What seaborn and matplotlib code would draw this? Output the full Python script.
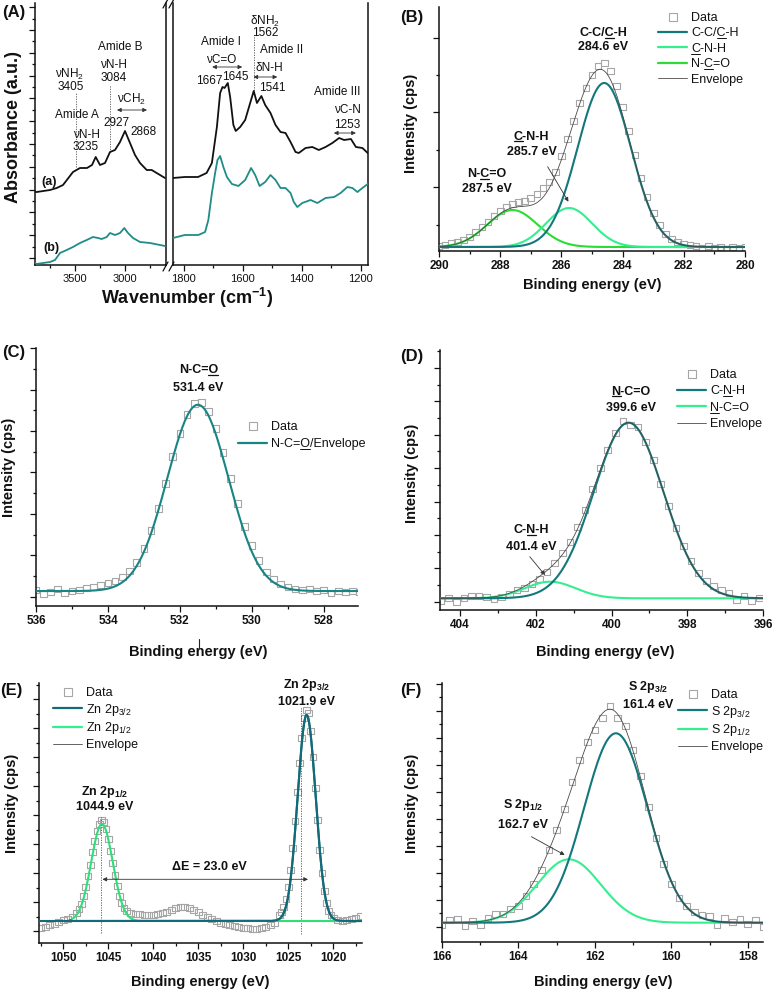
import numpy as np
import matplotlib
matplotlib.use("Agg")
import matplotlib.pyplot as plt
import seaborn as sns
from matplotlib.lines import Line2D

W, H = 775, 992

# ---------------- (A) FTIR (arbitrary units) ----------------
ftir_a_hi_wn = [3900, 3883, 3750, 3683, 3620, 3520, 3450, 3380, 3330, 3293, 3250, 3200, 3150,
                3100, 3050, 3000, 2950, 2900, 2850, 2783, 2733, 2683, 2600]
ftir_a_hi = [73, 73, 75, 77, 80, 93, 97, 97, 100, 108, 100, 102, 113,
             115, 123, 134, 122, 110, 102, 95, 95, 92, 87]
ftir_b_hi_wn = [3900, 3883, 3820, 3750, 3700, 3650, 3583, 3520, 3450, 3383, 3320, 3270, 3233,
                3183, 3150, 3100, 3050, 3007, 2970, 2920, 2850, 2750, 2600]
ftir_b_hi = [2, 1, 2, 3, 5, 12, 15, 18, 22, 25, 28, 27, 26,
             28, 32, 30, 32, 37, 32, 27, 23, 22, 19]
ftir_a_lo_wn = [1837, 1797, 1752, 1723, 1705, 1688, 1677, 1669, 1662, 1651, 1643, 1632, 1624,
                1609, 1592, 1575, 1563, 1552, 1537, 1524, 1506, 1489, 1472, 1455, 1438, 1421,
                1410, 1387, 1364, 1342, 1319, 1296, 1273, 1256, 1233, 1216, 1194, 1176]
ftir_a_lo = [87, 88, 88, 92, 102, 138, 172, 178, 177, 182, 168, 140, 134,
             138, 145, 162, 174, 162, 169, 160, 152, 140, 133, 132, 123, 113,
             112, 117, 118, 115, 118, 122, 127, 125, 126, 118, 117, 112]
ftir_b_lo_wn = [1837, 1797, 1751, 1728, 1717, 1705, 1694, 1686, 1677, 1666, 1654, 1637, 1615,
                1592, 1572, 1558, 1543, 1524, 1506, 1489, 1472, 1455, 1438, 1427, 1415, 1398,
                1370, 1347, 1319, 1290, 1268, 1245, 1228, 1211, 1194, 1176]
ftir_b_lo = [27, 30, 30, 33, 45, 72, 92, 105, 109, 98, 88, 81, 79,
             85, 97, 90, 79, 83, 90, 85, 77, 77, 72, 63, 58, 62,
             65, 62, 67, 68, 72, 78, 77, 73, 77, 81]

# ---------------- (B) C 1s ----------------
c1s_be = np.linspace(290.0, 280.0, 51)
c1s_counts = [5, 6, 8, 9, 11, 14, 19, 24, 29, 35, 40, 44, 47, 49, 50, 53, 57, 63, 69, 79,
              95, 112, 130, 148, 163, 176, 185, 188, 180, 165, 144, 120, 96, 73, 54, 38, 26, 17, 12, 9,
              7, 6, 5, 3, 5, 3, 4, 2, 4, 3, 4]
c1s_labels = ["C-C/C-H", "C-N-H", "N-C=O"]
c1s_center = [284.6, 285.75, 287.6]
c1s_height = [164, 39, 37]
c1s_sigma = [0.87, 0.75, 0.82]
c1s_base = 4

# ---------------- (C) O 1s ----------------
o1s_be = np.linspace(536.0, 527.0, 46)
o1s_counts = [16, 12, 14, 17, 13, 15, 16, 18, 19, 21, 23, 25, 29, 35, 44, 58, 76, 98, 123, 150,
              173, 192, 203, 204, 195, 178, 154, 128, 103, 80, 61, 46, 34, 27, 22, 19, 17, 16, 17, 15,
              16, 13, 15, 14, 15, 14]
o1s_center, o1s_height, o1s_sigma, o1s_base = 531.5, 187, 0.85, 15

# ---------------- (D) N 1s ----------------
n1s_be = np.linspace(404.5, 396.1, 43)
n1s_counts = [9, 12, 8, 12, 14, 14, 13, 11, 13, 16, 20, 22, 26, 31, 38, 47, 57, 68, 83, 100,
              121, 142, 160, 177, 189, 185, 183, 168, 150, 126, 104, 82, 64, 49, 37, 29, 24, 20, 17, 10,
              14, 9, 12]
n1s_center = [399.55, 401.62]
n1s_height = [175.6, 16.6]
n1s_sigma = [0.92, 0.67]
n1s_base = 11.7

# ---------------- (E) Zn 2p ----------------
zn_be = [1052.5, 1052.0, 1051.5, 1051.0, 1050.5, 1050.0, 1049.5, 1049.0,
         1048.5, 1048.25, 1048.0, 1047.75, 1047.5, 1047.25, 1047.0, 1046.75, 1046.5, 1046.25,
         1046.0, 1045.75, 1045.5, 1045.25, 1045.0, 1044.75, 1044.5, 1044.25, 1044.0, 1043.75,
         1043.5, 1043.25, 1043.0,
         1042.5, 1042.0, 1041.5, 1041.0, 1040.5, 1040.0, 1039.5, 1039.0, 1038.5, 1038.0,
         1037.5, 1037.0, 1036.5, 1036.0, 1035.5, 1035.0, 1034.5, 1034.0, 1033.5, 1033.0,
         1032.5, 1032.0, 1031.5, 1031.0, 1030.5, 1030.0, 1029.5, 1029.0, 1028.5, 1028.0,
         1027.5, 1027.0, 1026.5, 1026.0,
         1025.75, 1025.5, 1025.25, 1025.0, 1024.75, 1024.5, 1024.25, 1024.0, 1023.75, 1023.5,
         1023.25, 1023.0, 1022.75, 1022.5, 1022.25, 1022.0, 1021.75, 1021.5, 1021.25, 1021.0,
         1020.75, 1020.5, 1020.25, 1020.0,
         1019.5, 1019.0, 1018.5, 1018.0, 1017.5, 1017.0]
zn_counts = [15, 16, 18, 19, 21, 23, 24, 26,
             30, 34, 39, 47, 56, 67, 78, 91, 102, 112, 119, 123, 121, 114, 104, 92, 80, 68, 57, 47,
             40, 35, 32,
             30, 29, 29, 28, 28, 28, 29, 30, 31, 33, 35, 36, 36, 35, 33, 31, 28, 26, 24, 22,
             20, 19, 18, 17, 16, 15, 15, 14, 14, 15, 16, 18, 20, 28,
             31, 36, 44, 56, 73, 95, 122, 151, 180, 205, 225, 233, 230, 212, 186, 155, 123, 93, 70, 52,
             40, 32, 28, 25,
             23, 22, 23, 24, 25, 27]
zn_center = [1022.95, 1045.7]
zn_height = [206, 97]
zn_sigma = [1.0, 1.2]
zn_base = 22

# ---------------- (F) S 2p ----------------
s_be = np.linspace(166.0, 157.6, 43)
s_counts = [17, 22, 23, 16, 21, 17, 24, 28, 28, 33, 36, 46, 58, 72, 92, 112, 133, 160, 182, 200,
            212, 224, 236, 224, 216, 192, 166, 135, 104, 78, 58, 44, 36, 30, 27, 26, 17, 24, 20, 23,
            18, 22, 15]
s_center = [161.45, 162.68]
s_height = [189.4, 63.4]
s_sigma = [0.83, 0.83]
s_base = 19.3

TEAL = "#13787c"
LGREEN = "#33ef8f"
GREEN = "#2bdc33"
ENV = "#4a4a4a"
DATA = "#a6a6a6"

sns.set_theme(style="ticks")
plt.rcParams["font.family"] = ["Liberation Sans", "DejaVu Sans"]
plt.rcParams.update({
    "mathtext.fontset": "custom",
    "mathtext.rm": "Liberation Sans",
    "mathtext.bf": "Liberation Sans:bold",
    "mathtext.it": "Liberation Sans:italic",
    "mathtext.default": "rm",
    "axes.linewidth": 1.1,
    "axes.edgecolor": "#111111",
    "xtick.color": "#111111",
    "ytick.color": "#111111",
    "text.color": "#111111",
})

fig = plt.figure(figsize=(W / 100, H / 100), dpi=100)


def fx(px):
    return px / W


def fy(py):
    return 1 - py / H


def px_axes(l, t, r, b):
    return fig.add_axes([fx(l), fy(b), (r - l) / W, (b - t) / H])


def peak(x, c, h, s):
    return h * np.exp(-(x - c) ** 2 / (2 * s ** 2))


def curve(ax, x, y, color, lw, z=3, ls="-"):
    sns.lineplot(x=x, y=y, ax=ax, color=color, linewidth=lw, sort=False,
                 estimator=None, legend=False, zorder=z, linestyle=ls)


def data_pts(ax, x, y):
    sns.scatterplot(x=x, y=y, ax=ax, marker="s", s=23, facecolor="none",
                    edgecolor=DATA, linewidth=0.8, legend=False, zorder=1)


def ticks_setup(ax, xmaj, xmin, ymaj, ymin, labsize=8.5, bold=True):
    ax.set_xticks(xmaj)
    ax.set_xticklabels([f"{v:g}" for v in xmaj], fontsize=labsize,
                       fontweight="bold" if bold else "normal")
    ax.set_xticks(xmin, minor=True)
    ax.set_yticks(ymaj)
    ax.set_yticks(ymin, minor=True)
    ax.tick_params(labelleft=False)
    ax.tick_params(which="major", length=4.2, width=0.9, pad=2)
    ax.tick_params(which="minor", length=2.3, width=0.9)


def xps_axes(ax, xlim, ylim):
    ax.set_xlim(xlim)
    ax.set_ylim(ylim)
    sns.despine(ax=ax)
    ax.set_xlabel("")
    ax.set_ylabel("")


def legend(ax, handles, labels, l, t, spacing):
    return ax.legend(handles, labels, loc="upper left",
                     bbox_to_anchor=(fx(l), fy(t)), bbox_transform=fig.transFigure,
                     frameon=False, prop={"size": 9}, handlelength=2.35,
                     handletextpad=0.3, labelspacing=spacing, borderpad=0,
                     borderaxespad=0)


def h_data():
    return Line2D([], [], marker="s", ls="none", mfc="none", mec=DATA, ms=5.5, mew=0.8)


def h_line(c, lw):
    return Line2D([], [], color=c, lw=lw)


def note(ax, x, y, s, size=9, weight="bold"):
    return ax.text(x, y, s, ha="center", va="center", fontsize=size, fontweight=weight)


def arrow(ax, tail, tip, both=False):
    ax.annotate("", xy=tip, xytext=tail,
                arrowprops=dict(arrowstyle="<|-|>" if both else "-|>", color="#333333",
                                lw=0.6, mutation_scale=6, shrinkA=0, shrinkB=0))


def flabel(px, py, s, size, rot=0, ha="center"):
    fig.text(fx(px), fy(py), s, ha=ha, va="center", fontsize=size,
             fontweight="bold", rotation=rot)


# ======================= (A) =======================
axL = px_axes(35, 3, 166, 265)
axR = px_axes(173, 3, 368, 265)
curve(axL, ftir_a_hi_wn, ftir_a_hi, "#111111", 1.3)
curve(axL, ftir_b_hi_wn, ftir_b_hi, "#1f8c87", 1.3)
curve(axR, ftir_a_lo_wn, ftir_a_lo, "#111111", 1.3)
curve(axR, ftir_b_lo_wn, ftir_b_lo, "#1f8c87", 1.3)
for ax, xl in ((axL, (3900, 2590)), (axR, (1837, 1175))):
    ax.set_xlim(xl)
    ax.set_ylim(0, 262)
    ax.spines["top"].set_visible(False)
    ax.set_xlabel("")
    ax.set_ylabel("")
ticks_setup(axL, [3500, 3000], [3750, 3250, 2750],
            list(np.arange(7, 262, 22.8)), list(np.arange(18.4, 262, 22.8)),
            labsize=8, bold=False)
ticks_setup(axR, [1800, 1600, 1400, 1200], [1700, 1500, 1300], [], [],
            labsize=8, bold=False)
axR.tick_params(left=False, which="both")

dot = dict(color="#555555", lw=0.6, ls=(0, (1.5, 1.5)))
axL.plot([3490, 3490], [98, 172], **dot)
axL.plot([3150, 3150], [113, 180], **dot)
axR.plot([1563, 1563], [172, 230], **dot)

fa = 8.5
note(axL, 3550, 191, "νNH$_2$", fa, "normal")
note(axL, 3540, 178, "3405", fa, "normal")
note(axL, 3050, 218, "Amide B", fa, "normal")
note(axL, 3117, 200, "νN-H", fa, "normal")
note(axL, 3110, 187, "3084", fa, "normal")
note(axL, 2933, 166, "νCH$_2$", fa, "normal")
arrow(axL, (3080, 155), (2780, 155), both=True)
note(axL, 3477, 150, "Amide A", fa, "normal")
note(axL, 3390, 130, "νN-H", fa, "normal")
note(axL, 3390, 118, "3235", fa, "normal")
note(axL, 3083, 142, "2927", fa, "normal")
note(axL, 2817, 133, "2868", fa, "normal")
note(axL, 3757, 83, "(a)", 9, "bold")
note(axL, 3733, 17, "(b)", 9, "bold")

note(axR, 1524, 244, "δNH$_2$", fa, "normal")
note(axR, 1524, 232, "1562", fa, "normal")
note(axR, 1675, 223, "Amide I", fa, "normal")
note(axR, 1467, 215, "Amide II", fa, "normal")
note(axR, 1675, 205, "νC=O", fa, "normal")
arrow(axR, (1704, 198), (1602, 198), both=True)
note(axR, 1509, 197, "δN-H", fa, "normal")
arrow(axR, (1564, 188), (1483, 188), both=True)
note(axR, 1714, 184, "1667", fa, "normal")
note(axR, 1626, 188, "1645", fa, "normal")
note(axR, 1501, 177, "1541", fa, "normal")
note(axR, 1279, 173, "Amide III", fa, "normal")
note(axR, 1245, 155, "νC-N", fa, "normal")
note(axR, 1245, 140, "1253", fa, "normal")
arrow(axR, (1291, 132), (1216, 132), both=True)

for y0 in (271, 8):
    for x0 in (163, 169):
        fig.add_artist(Line2D([fx(x0), fx(x0 + 5)], [fy(y0), fy(y0 - 9)],
                              color="#111111", lw=0.9))

flabel(2, 12.5, "(A)", 12, ha="left")
flabel(13.5, 127, "Absorbance (a.u.)", 13, rot=90)
flabel(187, 298, r"Wavenumber (cm$^{\mathbf{-1}}$)", 13)

# ======================= (B) =======================
axB = px_axes(439, 7, 745, 251)
gB = np.linspace(290, 280, 400)
compsB = [peak(gB, c, h, s) for c, h, s in zip(c1s_center, c1s_height, c1s_sigma)]
data_pts(axB, c1s_be, c1s_counts)
curve(axB, gB, compsB[2] + c1s_base, GREEN, 1.5)
curve(axB, gB, compsB[1] + c1s_base, LGREEN, 1.5)
curve(axB, gB, compsB[0] + c1s_base, TEAL, 1.5)
curve(axB, gB, sum(compsB) + c1s_base, ENV, 0.6, z=4)
xps_axes(axB, (290, 280), (0, 244))
ticks_setup(axB, list(range(290, 279, -2)), list(range(289, 280, -2)),
            [64, 139, 213], [26, 101, 176])
legB = legend(axB, [h_data(), h_line(TEAL, 1.6), h_line(LGREEN, 1.6), h_line(GREEN, 1.6),
                    h_line(ENV, 0.6)],
              ["Data", "C-C/C-H", "C-N-H", "N-C=O", "Envelope"], 658, 12, 0.27)
tB1 = note(axB, 284.63, 217.7, "C-C/C-H")
note(axB, 284.63, 204.3, "284.6 eV")
tB2 = note(axB, 286.97, 114.3, "C-N-H")
note(axB, 286.97, 99.3, "285.7 eV")
arrow(axB, (286.45, 84.3), (285.77, 49.3))
tB3 = note(axB, 288.44, 77, "N-C=O")
note(axB, 288.44, 61.7, "287.5 eV")
flabel(400, 17.5, "(B)", 12, ha="left")
flabel(411, 123, "Intensity (cps)", 10.5, rot=90)
flabel(592, 285, "Binding energy (eV)", 10.5)

# ======================= (C) =======================
axC = px_axes(36, 348, 358, 606)
gC = np.linspace(536, 527, 400)
data_pts(axC, o1s_be, o1s_counts)
curve(axC, gC, peak(gC, o1s_center, o1s_height, o1s_sigma) + o1s_base, "#178584", 1.5)
xps_axes(axC, (536, 527.05), (0, 259))
ticks_setup(axC, list(range(536, 527, -2)), list(range(535, 527, -2)),
            list(np.arange(9.3, 260, 41.6)), list(np.arange(30.1, 260, 41.6)))
legC = legend(axC, [h_data(), h_line("#178584", 1.6)], ["Data", "N-C=O/Envelope"],
              238, 421, 0.42)
tC1 = note(axC, 531.49, 237, "N-C=O")
note(axC, 531.49, 219.3, "531.4 eV")
fig.add_artist(Line2D([fx(199), fx(199)], [fy(639), fy(648)], color="#222222", lw=0.8))
flabel(2, 353, "(C)", 12, ha="left")
flabel(9, 467, "Intensity (cps)", 10.5, rot=90)
flabel(198, 652, "Binding energy (eV)", 10.5)

# ======================= (D) =======================
axD = px_axes(440, 350, 763, 610)
gD = np.linspace(404.53, 396, 400)
compsD = [peak(gD, c, h, s) for c, h, s in zip(n1s_center, n1s_height, n1s_sigma)]
data_pts(axD, n1s_be, n1s_counts)
curve(axD, gD, compsD[1] + n1s_base, LGREEN, 1.5)
curve(axD, gD, compsD[0] + n1s_base, TEAL, 1.5)
curve(axD, gD, sum(compsD) + n1s_base, ENV, 0.6, z=4)
xps_axes(axD, (404.53, 396.0), (0, 260))
ticks_setup(axD, list(range(404, 395, -2)), list(range(403, 396, -2)),
            list(np.arange(8.3, 261, 33.4)), list(np.arange(25, 261, 33.4)))
legD = legend(axD, [h_data(), h_line(TEAL, 1.6), h_line(LGREEN, 1.6), h_line(ENV, 0.6)],
              ["Data", "C-N-H", "N-C=O", "Envelope"], 677, 369, 0.35)
tD1 = note(axD, 399.48, 218.3, "N-C=O")
note(axD, 399.48, 201.7, "399.6 eV")
tD2 = note(axD, 402.11, 80, "C-N-H")
note(axD, 402.11, 63.3, "401.4 eV")
arrow(axD, (402.16, 53.3), (401.76, 35))
flabel(400, 356, "(D)", 12, ha="left")
flabel(412, 473, "Intensity (cps)", 10.5, rot=90)
flabel(605, 652, "Binding energy (eV)", 10.5)

# ======================= (E) =======================
axE = px_axes(39, 683, 362, 943)
gE = np.linspace(1052.7, 1016.8, 600)
gE2 = np.linspace(1049.0, 1016.8, 540)
data_pts(axE, zn_be, zn_counts)
curve(axE, gE, peak(gE, zn_center[0], zn_height[0], zn_sigma[0]) + zn_base, "#136a78", 1.5)
curve(axE, gE2, peak(gE2, zn_center[1], zn_height[1], zn_sigma[1]) + zn_base, "#2fe07a", 1.5)
curve(axE, gE2, peak(gE2, zn_center[0], zn_height[0], zn_sigma[0]) + zn_base, "#136a78", 1.5, z=3)
curve(axE, gE, peak(gE, zn_center[0], zn_height[0], zn_sigma[0])
      + peak(gE, zn_center[1], zn_height[1], zn_sigma[1]) + zn_base, ENV, 0.6, z=2)
xps_axes(axE, (1052.7, 1016.8), (0, 260))
ticks_setup(axE, list(range(1050, 1016, -5)), list(np.arange(1052.5, 1016, -5)),
            list(np.arange(12, 261, 29)), list(np.arange(26.5, 261, 29)))
axE.plot([1045.8, 1045.8], [10, 126], **dot)
axE.plot([1023.6, 1023.6], [9, 236], **dot)
arrow(axE, (1022.8, 63.7), (1045.65, 63.7), both=True)
legend(axE, [h_data(), h_line("#136a78", 1.6), h_line(LGREEN, 1.6), h_line(ENV, 0.6)],
       ["Data", "Zn 2p$_{3/2}$", "Zn 2p$_{1/2}$", "Envelope"], 53, 687, 0.22)
note(axE, 1022.95, 258, r"Zn 2p$_{\mathbf{3/2}}$")
note(axE, 1022.95, 241.3, "1021.9 eV")
note(axE, 1045.4, 151.3, r"Zn 2p$_{\mathbf{1/2}}$")
note(axE, 1045.4, 136.3, "1044.9 eV")
note(axE, 1033.8, 76.3, "ΔE = 23.0 eV")
flabel(0, 691, "(E)", 12, ha="left")
flabel(12, 803, "Intensity (cps)", 10.5, rot=90)
flabel(200, 982, "Binding energy (eV)", 10.5)

# ======================= (F) =======================
axF = px_axes(442, 683, 763, 942)
gF = np.linspace(166, 157.6, 400)
compsF = [peak(gF, c, h, s) for c, h, s in zip(s_center, s_height, s_sigma)]
data_pts(axF, s_be, s_counts)
curve(axF, gF, compsF[1] + s_base, LGREEN, 1.5)
curve(axF, gF, compsF[0] + s_base, TEAL, 1.5)
curve(axF, gF, sum(compsF) + s_base, ENV, 0.6, z=4)
xps_axes(axF, (166, 157.6), (0, 259))
ticks_setup(axF, list(range(166, 157, -2)), list(range(165, 157, -2)),
            list(np.arange(15.3, 260, 27)), list(np.arange(28.8, 260, 27)))
legend(axF, [h_data(), h_line(TEAL, 1.6), h_line(LGREEN, 1.6), h_line(ENV, 0.6)],
       ["Data", "S 2p$_{3/2}$", "S 2p$_{1/2}$", "Envelope"], 678, 689, 0.22)
note(axF, 160.61, 255.3, r"S 2p$_{\mathbf{3/2}}$")
note(axF, 160.61, 237, "161.4 eV")
note(axF, 163.88, 137, r"S 2p$_{\mathbf{1/2}}$")
note(axF, 163.88, 117, "162.7 eV")
arrow(axF, (163.66, 105.3), (162.79, 87))
flabel(400, 690, "(F)", 12, ha="left")
flabel(412, 803, "Intensity (cps)", 10.5, rot=90)
flabel(603, 982, "Binding energy (eV)", 10.5)

# ---- underlined atoms ----
fig.canvas.draw()
rend = fig.canvas.get_renderer()


def underline(txt, prefix, ch, lw=0.9):
    fp = txt.get_fontproperties()
    bb = txt.get_window_extent(rend)

    def width(s):
        if not s:
            return 0.0
        t = fig.text(0, 0, s, fontproperties=fp)
        w = t.get_window_extent(rend).width
        t.remove()
        return w

    x0 = bb.x0 + width(prefix)
    x1 = x0 + width(ch)
    y = bb.y0 + 0.1 * fp.get_size_in_points() * fig.dpi / 72
    fig.add_artist(Line2D([x0 / W, x1 / W], [y / H, y / H], transform=fig.transFigure,
                          color="#111111", lw=lw))


tb = legB.get_texts()
underline(tb[1], "C-C/", "C", 0.7)
underline(tb[2], "", "C", 0.7)
underline(tb[3], "N-", "C", 0.7)
underline(tB1, "C-C/", "C")
underline(tB2, "", "C")
underline(tB3, "N-", "C")
underline(legC.get_texts()[1], "N-C=", "O", 0.7)
underline(tC1, "N-C=", "O")
td = legD.get_texts()
underline(td[1], "C-", "N", 0.7)
underline(td[2], "", "N", 0.7)
underline(tD1, "", "N")
underline(tD2, "C-", "N")

fig.savefig("out.png", dpi=100, facecolor="white")
